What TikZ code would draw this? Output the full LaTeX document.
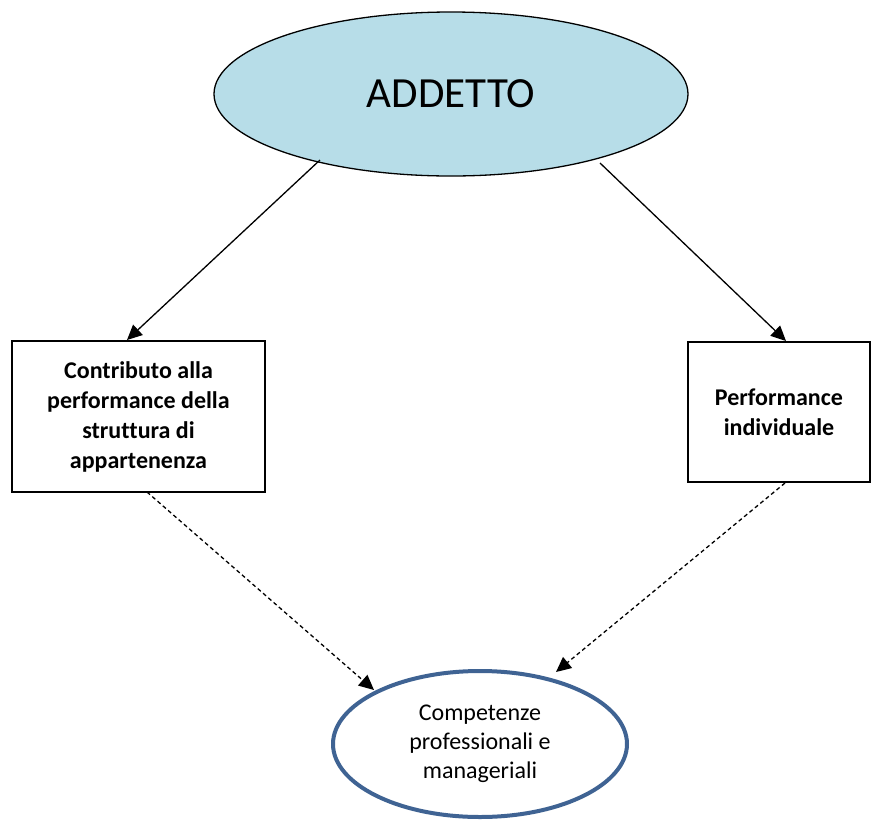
\documentclass[tikz,border=0pt]{standalone}
\usepackage{fontspec}
\setmainfont{Carlito}[Ligatures={NoCommon}]
\usetikzlibrary{shapes.geometric,arrows.meta}
\definecolor{topfill}{HTML}{B7DDE8}
\definecolor{bluering}{HTML}{3F6393}
\begin{document}
\begin{tikzpicture}[x=1pt,y=-1pt,
  conn/.style={-{Triangle[length=15pt,width=14pt]},line width=1.3pt},
  dconn/.style={conn,dash pattern=on 4pt off 3pt},
  boxnode/.style={draw,line width=1.5pt,align=center,font=\fontsize{24}{30}\selectfont\bfseries,inner sep=0pt}]
\useasboundingbox (0,0) rectangle (871,820);
\node[ellipse,draw,line width=1.3pt,fill=topfill,minimum width=474pt,minimum height=164pt,inner sep=0pt,font=\fontsize{43}{50}\selectfont] (top) at (451,94) {ADDETTO};
\node[boxnode,minimum width=253pt,minimum height=151pt] (left) at (138.5,416.5) {Contributo alla\\performance della\\struttura di\\appartenenza};
\node[boxnode,minimum width=182pt,minimum height=140pt] (right) at (779,412) {Performance\\individuale};
\node[ellipse,draw=bluering,line width=4pt,minimum width=294pt,minimum height=146pt,inner sep=0pt,align=center,font=\fontsize{24}{29}\selectfont] (bot) at (480,744) {Competenze\\professionali e\\manageriali};
\coordinate (a1) at (320,160);
\coordinate (a2) at (600,163);
\coordinate (d1) at (147,492);
\coordinate (d2) at (785,483);
\coordinate (e1) at (127,340);
\coordinate (e2) at (786,341);
\coordinate (f1) at (374,690);
\coordinate (f2) at (556,672);
\draw[conn] (a1) -- (e1);
\draw[conn] (a2) -- (e2);
\draw[dconn] (d1) -- (f1);
\draw[dconn] (d2) -- (f2);
\end{tikzpicture}
\end{document}
